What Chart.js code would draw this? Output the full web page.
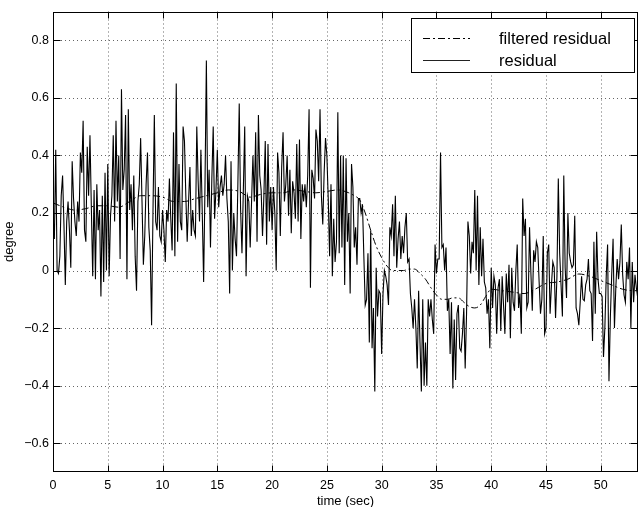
<!doctype html>
<html lang="en-US">

<head>
    <meta charset="utf-8" />
    <title>Residual vs time</title>
    <script src="https://cdn.jsdelivr.net/npm/chart.js@4.4.1/dist/chart.umd.min.js"></script>
    <style>
        html, body {
            margin: 0;
            padding: 0;
            background: #fff;
        }

        #chart {
            display: block;
        }
    </style>
</head>

<body>
    <canvas id="chart" width="638" height="507"></canvas>

    <script>
        // tick positions
        const xTicks = [0, 5, 10, 15, 20, 25, 30, 35, 40, 45, 50];
        const yTicks = [-0.6, -0.4, -0.2, 0, 0.2, 0.4, 0.6, 0.8];

        // residual, sampled every 0.125 s (one row per second)
        const sampleStep = 0.125;
        const residual = [
            0.19, 0.11, 0.42, 0.00, -0.01, 0.05, 0.26, 0.33,
            0.16, -0.05, 0.17, 0.24, 0.14, 0.01, 0.38, 0.25,
            0.17, 0.12, 0.24, 0.17, 0.41, 0.34, 0.52, 0.14,
            0.10, 0.43, 0.26, 0.47, 0.22, -0.02, 0.28, -0.03,
            0.30, 0.14, 0.21, -0.09, 0.26, -0.04, 0.34, 0.00,
            0.37, -0.02, 0.19, 0.26, 0.47, 0.17, 0.52, 0.24,
            0.40, 0.04, 0.63, 0.28, 0.35, 0.54, -0.03, 0.56,
            0.21, 0.30, 0.14, 0.33, 0.05, -0.07, 0.24, 0.30,
            0.46, 0.24, 0.02, 0.12, 0.30, 0.41, 0.15, 0.07,
            -0.19, 0.20, 0.54, 0.17, 0.14, 0.29, 0.12, 0.10,
            0.21, 0.14, 0.03, 0.21, 0.17, 0.32, 0.18, 0.07,
            0.48, 0.05, 0.65, 0.10, 0.37, 0.17, 0.14, 0.50,
            0.45, 0.26, 0.10, 0.24, 0.36, 0.12, 0.21, 0.14,
            0.12, 0.50, 0.31, 0.17, 0.42, 0.20, -0.04, 0.30,
            0.73, 0.22, 0.35, 0.08, 0.32, 0.50, 0.18, 0.28,
            0.42, 0.22, 0.29, 0.33, 0.26, 0.30, 0.40, 0.25,
            0.17, -0.08, 0.38, 0.00, 0.20, 0.11, 0.05, 0.30,
            0.58, 0.21, 0.06, 0.28, 0.50, -0.02, 0.26, 0.24,
            0.08, 0.24, 0.40, 0.24, 0.48, 0.10, 0.54, 0.33,
            0.28, 0.12, 0.26, 0.45, 0.09, 0.44, 0.17, 0.29,
            0.14, 0.29, 0.20, 0.00, 0.41, 0.34, 0.12, 0.36,
            0.48, 0.24, 0.30, 0.40, 0.19, 0.35, 0.13, 0.31,
            0.27, 0.18, 0.44, 0.17, 0.455, 0.11, 0.30, 0.24,
            0.30, 0.22, 0.33, 0.56, -0.06, 0.35, 0.32, 0.25,
            0.49, 0.45, 0.31, 0.56, 0.26, 0.16, 0.34, 0.46,
            0.40, 0.25, 0.05, 0.30, -0.02, 0.18, 0.03, 0.10,
            0.55, 0.06, 0.40, 0.08, 0.40, -0.05, 0.39, 0.10,
            0.20, -0.08, 0.37, 0.29, 0.08, 0.15, 0.02, 0.25,
            0.25, 0.20, 0.23, 0.05, -0.12, -0.10, 0.06, -0.25,
            0.14, -0.27, -0.13, -0.42, 0.01, -0.16, -0.07, -0.08,
            -0.29, -0.08, 0.00, -0.02, -0.05, -0.12, 0.15, 0.12,
            0.23, 0.05, 0.26, 0.01, 0.11, 0.17, 0.04, 0.12,
            0.06, 0.15, 0.20, 0.03, 0.04, -0.08, -0.13, -0.20,
            -0.10, -0.20, -0.34, -0.07, -0.25, -0.42, -0.10, -0.40,
            -0.25, -0.40, -0.10, -0.16, -0.10, -0.17, -0.22, 0.09,
            -0.01, 0.04, 0.04, 0.41, 0.08, 0.09, 0.00, 0.08,
            -0.14, -0.10, -0.29, -0.11, -0.41, -0.17, -0.38, -0.15,
            -0.12, -0.27, -0.28, -0.22, -0.13, -0.34, -0.15, 0.17,
            0.12, -0.01, 0.10, 0.06, 0.28, 0.00, 0.26, -0.05,
            0.15, -0.02, 0.11, -0.04, -0.06, -0.15, -0.10, -0.27,
            0.01, -0.13, -0.02, -0.05, -0.22, -0.06, -0.03, -0.21,
            -0.02, -0.12, -0.22, -0.01, -0.11, 0.02, -0.235, 0.01,
            -0.11, -0.14, 0.00, 0.09, -0.13, -0.08, -0.22, 0.25,
            0.12, 0.18, -0.13, -0.11, 0.15, -0.01, -0.14, 0.07,
            0.03, 0.10, 0.08, -0.04, -0.15, -0.10, 0.12, -0.22,
            -0.20, 0.06, 0.09, -0.15, -0.05, 0.03, 0.01, -0.165,
            -0.02, 0.32, 0.06, -0.05, -0.16, 0.33, 0.01, -0.095,
            0.20, 0.06, 0.03, 0.01, 0.02, 0.19, -0.13, -0.15,
            -0.19, -0.11, -0.02, -0.10, -0.105, -0.05, -0.03, 0.04,
            -0.07, -0.08, -0.245, 0.10, -0.15, 0.135, -0.03, -0.08,
            -0.08, -0.09, -0.30, -0.20, -0.02, 0.09, -0.385, -0.165,
            -0.015, 0.11, -0.20, -0.06, 0.04, -0.03, 0.03, 0.16,
            -0.015, -0.085, -0.11, 0.03, -0.03, 0.08, -0.20, 0.03,
            -0.11, -0.015, -0.06, -0.095, -0.05
        ];

        // filtered residual (smooth dash-dot curve)
        const filteredTime = [
            0, 1, 2, 3, 4, 5, 6, 7, 8, 9, 10, 11, 12, 13, 14, 15, 16, 17, 18, 19,
            20, 21, 22, 23, 24, 25, 26, 27, 27.5, 28, 28.5, 29, 29.5, 30, 30.5, 31,
            31.5, 32, 32.5, 33, 33.5, 34, 34.5, 35, 35.5, 36, 36.5, 37, 37.5, 38,
            38.5, 39, 39.5, 40, 41, 42, 43, 44, 45, 46, 47, 48, 49, 50, 51, 52, 53, 53.5
        ];
        const filteredValue = [
            0.235, 0.22, 0.21, 0.215, 0.225, 0.225, 0.22, 0.24, 0.26, 0.26, 0.255, 0.24, 0.24, 0.25, 0.26, 0.27, 0.28, 0.275, 0.255, 0.265,
            0.27, 0.27, 0.28, 0.275, 0.27, 0.275, 0.28, 0.27, 0.26, 0.245, 0.20, 0.14, 0.085, 0.045, 0.015, 0.0,
            0.0, 0.0, 0.005, 0.005, -0.01, -0.03, -0.06, -0.085, -0.10, -0.10, -0.095, -0.095, -0.11, -0.125,
            -0.13, -0.12, -0.09, -0.065, -0.07, -0.075, -0.08, -0.065, -0.045, -0.04, -0.03, -0.012, -0.02, -0.035, -0.05, -0.065, -0.07, -0.07
        ];

        const fontFamily = '"Liberation Sans", Arial, Helvetica, sans-serif';

        const residualPoints = residual.map((v, i) => ({ x: i * sampleStep, y: v }));
        const filteredPoints = filteredTime.map((t, i) => ({ x: t, y: filteredValue[i] }));

        function fmtTick(v) {
            if (Math.abs(v) < 1e-9) return '0';
            return (v < 0 ? '\u2212' : '') + Math.abs(v).toFixed(1);
        }

        function hline(ctx, x1, x2, y) {
            ctx.beginPath();
            ctx.moveTo(x1, y);
            ctx.lineTo(x2, y);
            ctx.stroke();
        }

        function vline(ctx, x, y1, y2) {
            ctx.beginPath();
            ctx.moveTo(x, y1);
            ctx.lineTo(x, y2);
            ctx.stroke();
        }

        // MATLAB style: dotted grid, boxed axes, inward ticks, boxed legend
        const matlabAxes = {
            id: 'matlabAxes',
            beforeDatasetsDraw(chart) {
                const { ctx, chartArea: a, scales: { x, y } } = chart;
                ctx.save();
                ctx.strokeStyle = '#666';
                ctx.lineWidth = 1;
                ctx.setLineDash([1, 3]);
                xTicks.forEach(v => {
                    if (v === 0) return;
                    vline(ctx, Math.round(x.getPixelForValue(v)) + 0.5, a.top, a.bottom);
                });
                yTicks.forEach(v => {
                    hline(ctx, a.left, a.right, Math.round(y.getPixelForValue(v)) + 0.5);
                });
                ctx.restore();
            },
            afterDatasetsDraw(chart) {
                const { ctx, chartArea: a, scales: { x, y } } = chart;
                const L = Math.round(a.left) + 0.5;
                const R = Math.round(a.right) - 0.5;
                const T = Math.round(a.top) + 0.5;
                const B = Math.round(a.bottom) - 0.5;
                const tick = 6;
                ctx.save();
                ctx.strokeStyle = '#000';
                ctx.lineWidth = 1;
                ctx.setLineDash([]);
                ctx.strokeRect(L, T, R - L, B - T);
                xTicks.forEach(v => {
                    const px = Math.round(x.getPixelForValue(v)) + 0.5;
                    vline(ctx, px, B, B - tick);
                    vline(ctx, px, T, T + tick);
                });
                yTicks.forEach(v => {
                    const py = Math.round(y.getPixelForValue(v)) + 0.5;
                    hline(ctx, L, L + tick + 1, py);
                    hline(ctx, R, R - tick - 1, py);
                });

                // legend
                const bx = 411.5, by = 18.5, bw = 223, bh = 54;
                ctx.fillStyle = '#fff';
                ctx.fillRect(bx, by, bw, bh);
                ctx.strokeRect(bx, by, bw, bh);
                ctx.setLineDash([7, 3, 2, 3]);
                hline(ctx, 423, 470, 38.5);
                ctx.setLineDash([]);
                ctx.strokeStyle = '#222';
                hline(ctx, 423, 470, 60.5);
                ctx.fillStyle = '#000';
                ctx.font = '16.5px ' + fontFamily;
                ctx.textBaseline = 'middle';
                ctx.textAlign = 'left';
                ctx.fillText('filtered residual', 499, 39);
                ctx.fillText('residual', 499, 61);
                ctx.restore();
            }
        };

        new Chart(document.getElementById('chart'), {
            type: 'line',
            data: {
                datasets: [
                    {
                        label: 'residual',
                        data: residualPoints,
                        borderColor: '#000',
                        borderWidth: 1.1,
                        pointRadius: 0,
                        tension: 0,
                        fill: false,
                    },
                    {
                        label: 'filtered residual',
                        data: filteredPoints,
                        borderColor: '#000',
                        borderWidth: 1,
                        borderDash: [7, 3, 2, 3],
                        pointRadius: 0,
                        tension: 0.4,
                        cubicInterpolationMode: 'monotone',
                        fill: false,
                    },
                ],
            },
            options: {
                responsive: false,
                animation: false,
                devicePixelRatio: 1,
                layout: {
                    padding: { top: 8, right: 0, left: 0, bottom: 0 }
                },
                plugins: {
                    legend: { display: false },
                    tooltip: { enabled: false },
                },
                scales: {
                    x: {
                        type: 'linear',
                        min: 0,
                        max: 53.4,
                        afterBuildTicks: s => { s.ticks = xTicks.map(v => ({ value: v })); },
                        afterFit: s => { s.height = 35; },
                        grid: { display: false, drawTicks: false },
                        border: { display: false },
                        ticks: {
                            color: '#000',
                            padding: 6,
                            maxRotation: 0,
                            autoSkip: false,
                            font: { family: fontFamily, size: 12.5 },
                        },
                        title: {
                            display: true,
                            text: 'time (sec)',
                            color: '#000',
                            font: { family: fontFamily, size: 13 },
                            padding: { top: 0, bottom: -2 },
                        },
                    },
                    y: {
                        min: -0.7,
                        max: 0.9,
                        afterBuildTicks: s => { s.ticks = yTicks.map(v => ({ value: v })); },
                        afterFit: s => { s.width = 53; },
                        grid: { display: false, drawTicks: false },
                        border: { display: false },
                        ticks: {
                            color: '#000',
                            padding: 4,
                            callback: v => fmtTick(v),
                            font: { family: fontFamily, size: 12.5 },
                        },
                        title: {
                            display: true,
                            text: 'degree',
                            color: '#000',
                            font: { family: fontFamily, size: 13 },
                            padding: { top: 2, bottom: 0 },
                        },
                    },
                },
            },
            plugins: [matlabAxes],
        });
    </script>
</body>

</html>
